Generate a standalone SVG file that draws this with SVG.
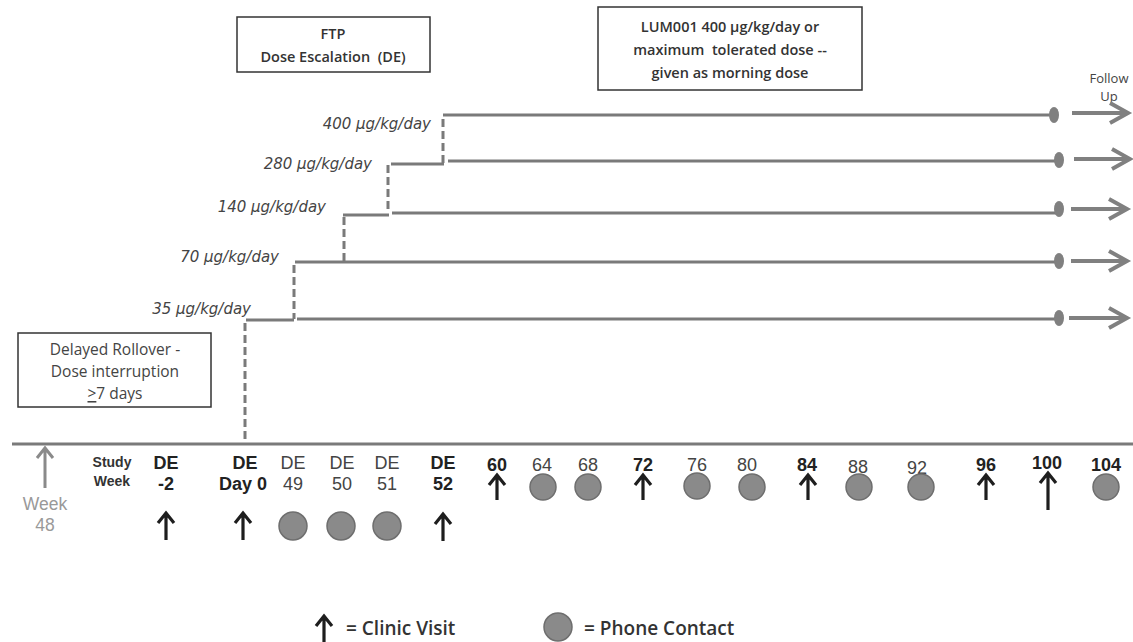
<svg xmlns="http://www.w3.org/2000/svg" width="1133" height="642" viewBox="0 0 1133 642">
<style>
.bg{fill:#ffffff}
.box{fill:#ffffff;stroke:#333;stroke-width:1.5}
.bt{font-family:"Open Sans","Liberation Sans",sans-serif;font-size:14.5px;font-weight:600;fill:#333;text-anchor:middle;dominant-baseline:central}
.rt{font-family:"Open Sans","Liberation Sans",sans-serif;font-size:15.5px;fill:#444;text-anchor:middle;dominant-baseline:central}
.dose{font-family:"DejaVu Sans",sans-serif;font-size:15px;font-style:italic;fill:#444;text-anchor:end;dominant-baseline:central}
.wk{font-family:"Liberation Sans",Arial,sans-serif;font-size:18px;font-weight:700;fill:#222;text-anchor:middle;dominant-baseline:central}
.wn{font-family:"Liberation Sans",Arial,sans-serif;font-size:18px;fill:#444;text-anchor:middle;dominant-baseline:central}
.sw{font-family:"Liberation Sans",Arial,sans-serif;font-size:14px;font-weight:700;fill:#333;text-anchor:middle;dominant-baseline:central}
.gl{font-family:"Liberation Sans",Arial,sans-serif;font-size:17.5px;fill:#999;text-anchor:middle;dominant-baseline:central}
.fu{font-family:"Open Sans","Liberation Sans",sans-serif;font-size:13px;fill:#444;text-anchor:middle;dominant-baseline:central}
.lg{font-family:"Open Sans","Liberation Sans",sans-serif;font-size:19px;font-weight:600;fill:#333;dominant-baseline:central}
.ln{stroke:#7a7a7a;stroke-width:3;fill:none}
.dash{stroke:#7a7a7a;stroke-width:3;fill:none;stroke-dasharray:8 4}
.end{fill:#808080}
.fa{stroke:#808080;stroke-width:4;fill:none;stroke-linecap:butt;stroke-linejoin:miter}
.cv{stroke:#1e1e1e;stroke-width:3.2;fill:none}
.ph{fill:#8a8a8a;stroke:#6e6e6e;stroke-width:1.5}
</style>
<rect class="bg" x="0" y="0" width="1133" height="642"/>

<g id="box-ftp">
<rect class="box" x="237" y="17" width="193" height="55"/>
<text class="bt" x="333" y="33">FTP</text>
<text class="bt" x="333" y="56" xml:space="preserve">Dose Escalation  (DE)</text>
</g>

<g id="box-lum">
<rect class="box" x="598" y="7" width="264" height="83"/>
<text class="bt" x="730" y="26">LUM001 400 µg/kg/day or</text>
<text class="bt" x="730" y="49" xml:space="preserve">maximum  tolerated dose --</text>
<text class="bt" x="730" y="72">given as morning dose</text>
</g>

<g id="box-rollover">
<rect class="box" x="18" y="333" width="193" height="74"/>
<text class="rt" x="115" y="349">Delayed Rollover -</text>
<text class="rt" x="115" y="371">Dose interruption</text>
<text class="rt" x="115" y="393"><tspan text-decoration="underline">&gt;</tspan>7 days</text>
</g>

<g id="follow-up">
<text class="fu" x="1109" y="78">Follow</text>
<text class="fu" x="1109" y="96">Up</text>
</g>

<g id="dose-labels">
<text class="dose" x="431" y="124">400 µg/kg/day</text>
<text class="dose" x="372" y="164">280 µg/kg/day</text>
<text class="dose" x="326" y="207">140 µg/kg/day</text>
<text class="dose" x="279" y="257">70 µg/kg/day</text>
<text class="dose" x="251" y="309">35 µg/kg/day</text>
</g>

<g id="connectors">
<path class="ln" d="M443 115 H1054"/>
<path class="dash" d="M443 119 V164"/>
<path class="ln" d="M391 164 H444"/>
<path class="ln" d="M448 161 H1059"/>
<path class="dash" d="M388 165 V213"/>
<path class="ln" d="M343 215 H389"/>
<path class="ln" d="M392 213 H1059"/>
<path class="dash" d="M344 217 V262"/>
<path class="ln" d="M295 262 H1059"/>
<path class="dash" d="M294 265 V319"/>
<path class="ln" d="M246 320 H294"/>
<path class="ln" d="M297 319 H1059"/>
<path class="dash" d="M245 323 V443"/>
<ellipse class="end" cx="1054" cy="115" rx="5" ry="8"/>
<ellipse class="end" cx="1059" cy="160" rx="5" ry="8"/>
<ellipse class="end" cx="1059" cy="209" rx="5" ry="8"/>
<ellipse class="end" cx="1059" cy="261" rx="5" ry="8"/>
<ellipse class="end" cx="1059" cy="318" rx="5" ry="8"/>
<path class="fa" d="M1072 113 H1126 M1110 103 L1128 113 L1110 123"/>
<path class="fa" d="M1074 159 H1128 M1112 149 L1130 159 L1112 169"/>
<path class="fa" d="M1071 209 H1125 M1109 199 L1127 209 L1109 219"/>
<path class="fa" d="M1071 261 H1125 M1109 251 L1127 261 L1109 271"/>
<path class="fa" d="M1069 318 H1125 M1109 308 L1127 318 L1109 328"/>
<path class="ln" d="M12 444 H1133"/>
</g>

<g id="week48">
<path d="M45 488 V448 M37 458 L45 448 L53 458" stroke="#8a8a8a" stroke-width="3" fill="none"/>
<text class="gl" x="45" y="504">Week</text>
<text class="gl" x="45" y="525">48</text>
</g>

<g id="study-week">
<text class="sw" x="112" y="462">Study</text>
<text class="sw" x="112" y="481">Week</text>
</g>

<g id="week-labels">
<text class="wk" x="166" y="463">DE</text>
<text class="wk" x="166" y="484">-2</text>
<text class="wk" x="245" y="463">DE</text>
<text class="wk" x="243" y="484">Day 0</text>
<text class="wn" x="293" y="463">DE</text>
<text class="wn" x="293" y="484">49</text>
<text class="wn" x="342" y="463">DE</text>
<text class="wn" x="342" y="484">50</text>
<text class="wn" x="387" y="463">DE</text>
<text class="wn" x="387" y="484">51</text>
<text class="wk" x="443" y="463">DE</text>
<text class="wk" x="443" y="484">52</text>
<text class="wk" x="497" y="465">60</text>
<text class="wn" x="542" y="465">64</text>
<text class="wn" x="588" y="465">68</text>
<text class="wk" x="643" y="465">72</text>
<text class="wn" x="697" y="465">76</text>
<text class="wn" x="747" y="465">80</text>
<text class="wk" x="807" y="465">84</text>
<text class="wn" x="858" y="467">88</text>
<text class="wn" x="917" y="468">92</text>
<text class="wk" x="986" y="465">96</text>
<text class="wk" x="1047" y="463">100</text>
<text class="wk" x="1106" y="465">104</text>
</g>

<g id="clinic-visits">
<path class="cv" d="M166 540 V513 M158 523 L166 513 L174 523"/>
<path class="cv" d="M243 540 V513 M235 523 L243 513 L251 523"/>
<path class="cv" d="M443 541 V514 M435 524 L443 514 L451 524"/>
<path class="cv" d="M497 500 V475 M489 485 L497 475 L505 485"/>
<path class="cv" d="M643 500 V475 M635 485 L643 475 L651 485"/>
<path class="cv" d="M808 500 V475 M800 485 L808 475 L816 485"/>
<path class="cv" d="M986 500 V475 M978 485 L986 475 L994 485"/>
<path class="cv" d="M1048 510 V473 M1040 483 L1048 473 L1056 483"/>
</g>

<g id="phone-contacts">
<circle class="ph" cx="293" cy="526" r="14"/>
<circle class="ph" cx="341" cy="526" r="14"/>
<circle class="ph" cx="387" cy="526" r="14"/>
<circle class="ph" cx="543" cy="487" r="13"/>
<circle class="ph" cx="588" cy="487" r="13"/>
<circle class="ph" cx="697" cy="486" r="13"/>
<circle class="ph" cx="752" cy="487" r="13"/>
<circle class="ph" cx="859" cy="487" r="13"/>
<circle class="ph" cx="921" cy="487" r="13"/>
<circle class="ph" cx="1106" cy="487" r="13"/>
</g>

<g id="legend">
<path class="cv" d="M324 642 V616 M316 626 L324 616 L332 626"/>
<text class="lg" x="346" y="628">= Clinic Visit</text>
<circle class="ph" cx="558" cy="627" r="14"/>
<text class="lg" x="584" y="628">= Phone Contact</text>
</g>
</svg>
